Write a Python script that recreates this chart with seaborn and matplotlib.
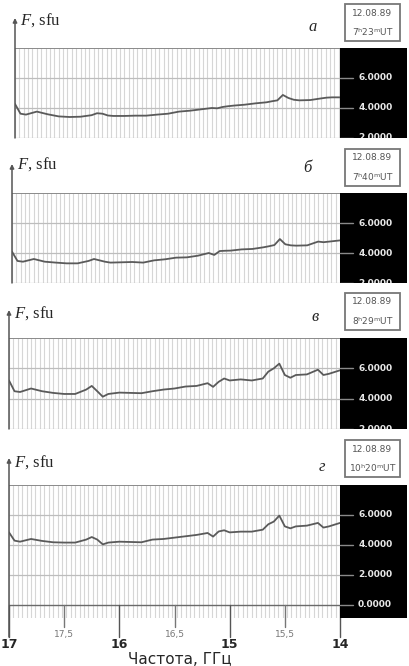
import numpy as np
import pandas as pd
import seaborn as sns
import matplotlib.pyplot as plt
from matplotlib.patches import Rectangle

sns.set_style("white")
plt.rcParams['font.family'] = ['DejaVu Sans']
plt.rcParams['mathtext.fontset'] = 'custom'
plt.rcParams['mathtext.it'] = 'Liberation Serif:italic'
plt.rcParams['mathtext.rm'] = 'DejaVu Sans'

#######################################
## Data
#######################################

freq = [17.0, 16.95, 16.9, 16.8, 16.7, 16.6, 16.5, 16.4, 16.3, 16.25,
        16.2, 16.15, 16.1, 16.0, 15.9, 15.8, 15.7, 15.6, 15.5, 15.4,
        15.3, 15.2, 15.15, 15.1, 15.05, 15.0, 14.9, 14.8, 14.7, 14.65,
        14.6, 14.55, 14.5, 14.45, 14.4, 14.3, 14.2, 14.15, 14.1, 14.0]

flux_a = [4.27, 3.62, 3.56, 3.76, 3.58, 3.44, 3.40, 3.42, 3.52, 3.65,
          3.62, 3.50, 3.47, 3.47, 3.49, 3.49, 3.56, 3.62, 3.76, 3.82,
          3.91, 4.00, 3.98, 4.07, 4.12, 4.16, 4.22, 4.31, 4.38, 4.45,
          4.51, 4.87, 4.67, 4.55, 4.51, 4.53, 4.64, 4.69, 4.71, 4.71]

flux_b = [4.09, 3.47, 3.42, 3.60, 3.42, 3.36, 3.31, 3.31, 3.47, 3.60,
          3.51, 3.42, 3.36, 3.38, 3.40, 3.36, 3.51, 3.58, 3.69, 3.71,
          3.82, 4.00, 3.87, 4.13, 4.15, 4.16, 4.24, 4.27, 4.38, 4.45,
          4.53, 4.93, 4.58, 4.51, 4.49, 4.51, 4.76, 4.72, 4.76, 4.84]

flux_c = [5.20, 4.49, 4.44, 4.67, 4.49, 4.38, 4.31, 4.31, 4.60, 4.84,
          4.49, 4.13, 4.31, 4.40, 4.38, 4.36, 4.49, 4.60, 4.67, 4.80,
          4.84, 5.02, 4.78, 5.11, 5.33, 5.20, 5.27, 5.20, 5.33, 5.78,
          6.00, 6.31, 5.56, 5.38, 5.56, 5.60, 5.91, 5.56, 5.64, 5.87]

flux_d = [4.84, 4.29, 4.22, 4.40, 4.27, 4.18, 4.16, 4.16, 4.36, 4.53,
          4.36, 4.04, 4.16, 4.22, 4.20, 4.18, 4.36, 4.40, 4.49, 4.58,
          4.67, 4.80, 4.56, 4.90, 4.98, 4.84, 4.89, 4.89, 5.02, 5.38,
          5.56, 5.96, 5.24, 5.11, 5.24, 5.29, 5.47, 5.16, 5.24, 5.47]

letters = ["а", "б", "в", "г"]
times = ["7$^{\\rm h}$23$^{\\rm m}$UT", "7$^{\\rm h}$40$^{\\rm m}$UT",
         "8$^{\\rm h}$29$^{\\rm m}$UT", "10$^{\\rm h}$20$^{\\rm m}$UT"]
date = "12.08.89"
right_ticks = [6, 4, 2, 0]
right_labels = ["6.0000", "4.0000", "2.0000", "0.0000"]
major_x = [17, 16, 15, 14]
major_lab = ["17", "16", "15", "14"]
minor_x = [16.5, 15.5, 14.5]
minor_lab = ["17,5", "16,5", "15,5"]

#######################################
## Layout (pixels)
#######################################

W, H = 410, 666
fig = plt.figure(figsize=(W / 100, H / 100), dpi=100)


def box(l, t, r, b):
    return [l / W, 1 - b / H, (r - l) / W, (b - t) / H]


# left, top, right, bottom, ymin, axis-top, label y, letter (x, y), date box top
panels = [
    (15, 48, 343, 138, 2.0, 18, 20, (313, 27), 4, flux_a),
    (12, 193, 340, 283, 2.0, 164, 164, (307, 168), 149, flux_b),
    (9, 338, 340, 429, 2.0, 310, 313, (315, 317), 293, flux_c),
    (9, 485, 340, 618, -0.87, 458, 462, (322, 467), 440, flux_d),
]

grid_x = np.arange(14.0, 17.001, 0.04)

for i, (l, t, r, b, ymin, atop, ly, (lx_, ly_), bt, flux) in enumerate(panels):
    ax = fig.add_axes(box(l, t, r, b))
    for s in ax.spines.values():
        s.set_visible(False)

    ax.vlines(grid_x, ymin, 8, color="#d6d6d6", lw=0.8, zorder=1)
    for v in [6, 4, 2]:
        ax.axhline(v, color="#bdbdbd", lw=0.9, zorder=1)
    if i == 3:
        ax.axhline(0, color="#6a6a6a", lw=1.0, zorder=2)
    ax.axhline(8, color="#8a8a8a", lw=1.4, zorder=2)

    df = pd.DataFrame({"f": freq, "F": flux})
    sns.lineplot(data=df, x="f", y="F", ax=ax, color="#5a5a5a", lw=1.3, zorder=3)
    ax.set_xlim(17, 14)
    ax.set_ylim(ymin, 8)
    ax.set(xlabel="", ylabel="")
    ax.set_xticks([])
    ax.set_yticks([])

    # left axis with arrow
    ax_h = b - t
    top_frac = 1 + (t - atop) / ax_h
    bot_frac = 0.0
    if i == 3:
        bot_frac = -(637 - b) / ax_h
    ax.annotate("", xy=(0, top_frac), xytext=(0, bot_frac), xycoords="axes fraction",
                arrowprops=dict(arrowstyle="-|>", color="#555555", lw=1.1,
                                mutation_scale=6, shrinkA=0, shrinkB=0))

    # black scale box on the right
    bx = fig.add_axes(box(340, t, 407, b), facecolor="black")
    bx.set_xlim(0, 1)
    bx.set_ylim(ymin, 8)
    bx.set_xticks([])
    bx.set_yticks([])
    for s in bx.spines.values():
        s.set_visible(False)
    for v, lab in zip(right_ticks, right_labels):
        if v < ymin:
            continue
        bx.plot([0, 0.2], [v, v], color="#8a8a8a", lw=1.0)
        bx.text(0.27, v, lab, color="#e8e8e8", fontsize=6.5, fontweight="bold",
                va="center", ha="left", clip_on=True)

    fig.text((l + 5) / W, 1 - ly / H, "$F$, sfu", fontsize=12, va="center", ha="left",
             family="Liberation Serif")
    fig.text(lx_ / W, 1 - ly_ / H, letters[i], fontsize=12, va="center", ha="center",
             family="Liberation Serif", style="italic")

    # date / time box
    fig.patches.append(Rectangle((345 / W, 1 - (bt + 37) / H), 55 / W, 37 / H,
                                 transform=fig.transFigure, fc="white",
                                 ec="#777777", lw=1.3))
    fig.text(372.5 / W, 1 - (bt + 9) / H, date, fontsize=6.5, color="#555555",
             va="center", ha="center")
    fig.text(372.5 / W, 1 - (bt + 28) / H, times[i], fontsize=6.5, color="#555555",
             va="center", ha="center")

    if i == 3:
        for xv, lab in zip(major_x, major_lab):
            ax.plot([xv, xv], [0, -2.13], color="#555555", lw=1.0, clip_on=False, zorder=4)
            ax.text(xv, -2.2, lab, fontsize=9, fontweight="bold", ha="center", va="top")
        for xv, lab in zip(minor_x, minor_lab):
            ax.plot([xv, xv], [0, -1.45], color="#777777", lw=1.0, clip_on=False, zorder=4)
            ax.text(xv, -1.7, lab, fontsize=6.5, color="#777777", ha="center", va="top")

fig.text(180 / W, 1 - 659 / H, "Частота, ГГц", fontsize=11, ha="center", va="center")

fig.savefig("out.png", dpi=100)
